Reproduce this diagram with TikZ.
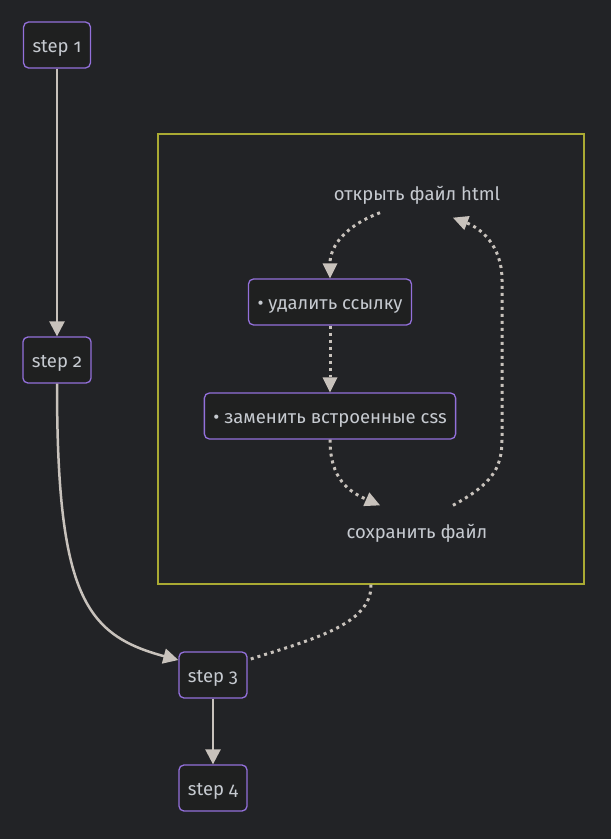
\documentclass[tikz,border=0pt]{standalone}
\usepackage{fontspec}
\setmainfont{Fira Sans}[Numbers=OldStyle]
\usetikzlibrary{arrows.meta}
\definecolor{bgdark}{HTML}{222326}
\definecolor{nodefill}{HTML}{1F2020}
\definecolor{nodeborder}{HTML}{9370DB}
\definecolor{clusterborder}{HTML}{AAAA33}
\definecolor{linecol}{HTML}{C8C2BC}
\definecolor{textcol}{HTML}{C6CAD0}
\tikzstyle{stepbox} = [rectangle, rounded corners=5pt, minimum height=46pt, inner xsep=9pt, text height=17pt, text depth=2pt, text centered, draw=nodeborder, line width=1.3pt, fill=nodefill, text=textcol, font=\fontsize{18.5}{22}\selectfont]
\tikzstyle{labeltext} = [inner sep=0pt, text height=17pt, text depth=2pt, text=textcol, font=\fontsize{18.5}{22}\selectfont]
\tikzstyle{cluster} = [draw=clusterborder, line width=1.3pt]
\tikzstyle{arrow} = [line width=2.5pt, draw=linecol, -{Triangle[length=15pt,width=15pt]}]
\tikzstyle{dotarrow} = [line width=3pt, draw=linecol, dash pattern=on 3pt off 4pt, -{Triangle[length=15pt,width=15pt,line width=0pt]}]
\tikzstyle{dotline} = [line width=3pt, draw=linecol, dash pattern=on 3pt off 4pt]

\begin{document}
\begin{tikzpicture}[x=1pt, y=-1pt]

    \fill[bgdark] (0,0) rectangle (611,839);
    \useasboundingbox (0,0) rectangle (611,839);

    % Cluster
    \node (group) [cluster, minimum width=426pt, minimum height=450pt] at (371,359) {};

    % Nodes
    \node (step1) [stepbox] at (57,45) {step 1};
    \node (step2) [stepbox] at (57,360) {step 2};
    \node (step3) [stepbox] at (213,675) {step 3};
    \node (step4) [stepbox] at (213,788) {step 4};
    \node (open) [labeltext] at (417,193) {открыть файл html};
    \node (delete) [stepbox] at (330,302) {• удалить ссылку};
    \node (replace) [stepbox] at (330,416) {• заменить встроенные css};
    \node (save) [labeltext] at (417,531) {сохранить файл};

    % Arrows
    \draw [arrow] (step1) -- (step2);
    \draw [arrow] (step2.south) .. controls (57,595) and (85,635) .. ([yshift=15pt]step3.west);
    \draw [arrow] (step3) -- (step4);
    \draw [dotline] (group.south) .. controls (372,625) and (310,640) .. ([yshift=15pt]step3.east);

    % Loop inside the group
    \draw [dotarrow] ([xshift=-37pt, yshift=-10pt]open.south) .. controls (340,228) and (330,250) .. (delete.north);
    \draw [dotarrow] (delete) -- (replace);
    \draw [dotarrow] (replace.south) .. controls (330,480) and (350,492) .. ([xshift=-37pt, yshift=16pt]save.north);
    \draw [dotarrow] ([xshift=36pt, yshift=16pt]save.north) .. controls (490,485) and (502,470) .. (502,440) -- (502,280) .. controls (502,245) and (480,228) .. ([xshift=36pt, yshift=-15pt]open.south);
\end{tikzpicture}
\end{document}
